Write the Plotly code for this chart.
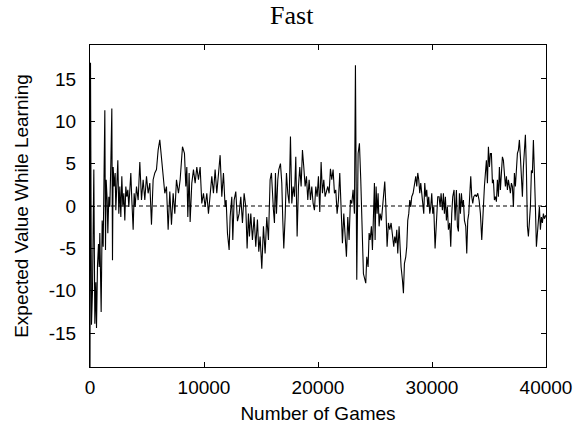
import plotly.graph_objects as go

games = [
    0, 44, 131, 219, 336, 424, 511, 570, 658, 745, 804, 862, 979, 1067, 1155, 1242, 1301, 1359, 1418,
    1505, 1564, 1652, 1739, 1827, 1915, 1973, 2031, 2119, 2207, 2265, 2353, 2441, 2528, 2616, 2704,
    2791, 2879, 2967, 3054, 3142, 3230, 3318, 3405, 3493, 3581, 3668, 3785, 3873, 3961,
    4078, 4224, 4370, 4516, 4662, 4808, 4955, 5100, 5247, 5393, 5539, 5685, 5831, 5977, 6123, 6270,
    6416, 6562, 6708, 6854, 7000, 7147, 7293, 7439, 7585,
    7761, 7907, 8112, 8287, 8404, 8492, 8580, 8696, 8784, 8930, 9076, 9223, 9369, 9515, 9661, 9807,
    9953, 10100, 10246, 10392, 10538, 10684, 10830, 10976, 11122, 11269, 11415, 11561, 11707, 11853,
    11941, 12058, 12204, 12292, 12438, 12526, 12643, 12789, 12935, 13081, 13227, 13373, 13519, 13665,
    13782, 13899, 13987, 14104, 14250, 14396, 14542, 14688, 14805, 14922, 15069, 15215, 15361, 15507,
    15653, 15799, 15916, 16092,
    16181, 16268, 16356, 16473, 16561, 16707, 16824, 16912, 16999, 17116, 17233, 17350, 17467, 17584,
    17701, 17818, 17935, 18052, 18168, 18285, 18402, 18519, 18636, 18753, 18870, 18987, 19104, 19221,
    19338, 19455, 19571, 19688, 19805, 19922, 20039, 20156, 20273, 20390, 20507, 20624, 20741, 20858,
    20974, 21091, 21208, 21325, 21442, 21559, 21676, 21793, 21910, 22027, 22144, 22261, 22378, 22494,
    22611, 22728, 22845, 22962, 23079, 23196, 23284, 23401, 23518, 23634, 23751, 23868, 23985,
    24190, 24278, 24395, 24483, 24570, 24687, 24775, 24863, 24950, 25009, 25097, 25184, 25272, 25360,
    25447, 25564, 25652, 25769, 25856, 25944, 26061, 26178, 26295, 26412, 26529, 26646, 26733, 26821,
    26909, 26997, 27113, 27201, 27289, 27406, 27494, 27581, 27698, 27786, 27873, 27961, 28049, 28136,
    28224, 28341, 28458, 28575, 28662, 28750, 28838, 28926, 29013, 29101, 29189, 29276, 29364, 29452,
    29539, 29627, 29715, 29803, 29890, 29978, 30066, 30153, 30270, 30387, 30504, 30621, 30709, 30796,
    30913, 31001, 31089, 31176, 31264, 31352, 31440, 31556, 31644, 31732, 31820, 31936, 32024, 32141,
    32230, 32318, 32405, 32493, 32581, 32669, 32756, 32844, 32961, 33049, 33136, 33224, 33312, 33399,
    33487, 33575, 33662, 33779, 33896, 34013, 34130, 34247, 34364, 34481, 34598, 34685, 34773, 34861,
    34949, 35036, 35124, 35212, 35299, 35387, 35475, 35562, 35650, 35738, 35826, 35913, 36001, 36089,
    36176, 36264, 36352, 36439, 36527, 36615, 36702, 36790, 36878, 36965, 37053, 37141, 37229, 37316,
    37404, 37492, 37579, 37667, 37755, 37842, 37930, 38018, 38105, 38193, 38281, 38368, 38456, 38544,
    38632, 38719, 38807, 38895, 38982, 39070, 39158, 39245, 39333, 39421, 39508, 39596, 39684, 39771,
    39859, 39976,
]

expected_value = [
    -20, 16.9, -14, -10, 4.3, -13.9, -9, -14.4, -7, -4.5, -7.2, -3.2, -12.5, -1.7, -4.8, 2.7, 11.3, -5.2, 3.1,
    0.7, -3.2, 1.1, -0.1, 5.0, 11.5, -6.4, 4.6, 2.3, 3.9, -0.5, 3.1, 5.4, -0.9, 2.3, -1.3,
    3.5, -0.1, 1.5, -1.7, 2.3, 1.1, 1.9, -0.1, 2.3, 3.9, 0.7, -2.8, 1.5, -0.1,
    2.3, 0.7, 5.2, 0.7, 3.1, 0.7, 3.5, 1.5, 2.7, -2.2, 3.1, 3.9, 4.3, 6.6, 7.8, 5.7,
    2.7, 1.5, 2.3, -2.8, 1.7, -2.2, 1.5, -0.9, 3.1,
    1.5, 3.1, 7.0, 6.2, 2.3, 4.6, -1.3, 3.9, -1.9, 2.7, 4.3, 2.7, 4.6, 3.1, 4.6, 0.3,
    1.5, -0.1, 1.5, -0.9, 1.1, 3.5, 1.5, 4.3, 1.5, 3.9, 6.0, 1.1, 3.9, -0.1,
    0.7, -3.2, -5.2, -1.3, 1.1, -4.0, 0.7, 1.7, -1.8, -0.9, 1.1, -2.0, 1.5, -0.1,
    -5.0, -0.9, -3.6, -0.9, -4.0, -1.3, -4.8, -1.6, -5.4, -3.6, -7.4, -2.4, -5.6, -1.3,
    -4.0, 3.1, 3.9, -0.5,
    -2.0, 3.9, -0.9, 3.1, 4.3, 5.0, 2.7, -1.7, -5.0, -1.3, 3.9, 1.5, 0.3, 8.2,
    0.3, 2.3, 1.1, 5.8, -3.6, 2.3, 4.6, 2.3, 6.6, 4.6, 2.3, 3.5, 0.7, 3.1,
    0.7, 2.3, 0.3, -0.5, 2.3, 1.1, 3.5, -0.7, 5.2, 1.5, 3.1, 1.1, 1.9, 2.3,
    1.5, 4.4, 3.1, 4.3, 1.5, 1.9, -0.9, 0.7, 3.9, -1.3, -4.4, -0.9, -3.0, -6.0,
    -1.3, -4.0, 0.7, 0.3, 1.9, -0.9, 16.6, -8.7, 6.2, 7.4, 3.1, -2.4, -8.0,
    -9.1, -6.0, -7.2, -3.2, -4.0, -2.4, -5.2, -1.7, 2.7, -4.0, 2.3, -0.9, 1.5, -2.4,
    -0.9, -1.7, -0.5, 1.1, 2.9, 0.3, -4.8, -2.0, -2.8, -2.0, -3.2, -4.8, -3.6, -4.4,
    -2.8, -5.6, -2.4, -5.6, -7.2, -8.7, -10.3, -6.8, -6.0, -4.8, -1.7, -0.9, 0.7, -0.1,
    1.1, 1.5, 2.7, 3.5, 2.3, 3.9, 3.1, 1.5, 2.7, 1.1, 0.3, -0.9, 2.7, 1.1,
    1.9, -0.1, 1.1, -0.9, -0.1, 1.5, -0.9, -0.1, -5.0, -0.9, 1.1, 1.1, -0.1, 1.5,
    -0.5, 1.5, -0.9, 1.1, -1.7, -0.1, -2.8, -2.0, -4.8, -0.9, 1.1, 1.9, -1.7, 1.9,
    -2.4, -3.0, 1.5, -0.9, 1.5, -0.1, 0.7, -1.7, -2.4, -5.6, -1.7, -0.9, 1.9, 3.5,
    1.1, 0.3, 1.1, 1.3, 1.1, 1.5, 0.7, -0.9, -4.0, 0.3, 2.3, 3.9, 5.4, 2.7,
    7.0, 4.6, 6.2, 6.2, 2.7, 3.1, 0.7, 1.1, 0.5, 3.1, 1.1, 4.6, 1.9, 3.9,
    5.8, 5.4, 3.5, 2.3, 3.5, 1.9, 3.1, 2.3, 1.5, 2.7, 2.3, -0.1, 3.9, 2.3,
    4.6, 6.2, 6.6, 7.8, 5.8, 3.1, 1.1, 4.6, 6.2, 8.4, 4.3, -2.4, -3.6, -1.3,
    -0.1, 4.2, 3.9, 7.8, 4.6, -0.1, -4.8, -2.4, -1.7, -0.1, -2.8, -1.3, -2.0, -0.9,
    -1.5, -1.1,
]

x_ticks = [0, 10000, 20000, 30000, 40000]
y_ticks = [-15, -10, -5, 0, 5, 10, 15]

SANS = "Liberation Sans, Arial, Helvetica, sans-serif"
SERIF = "Liberation Serif, Times New Roman, serif"

fig = go.Figure()
fig.add_trace(go.Scatter(
    x=games, y=expected_value, mode="lines",
    line=dict(color="black", width=1.1), showlegend=False, hoverinfo="skip",
))

fig.add_shape(type="line", xref="paper", yref="y", x0=0, x1=1, y0=0, y1=0,
              line=dict(color="black", width=1, dash="4px,3px"), layer="below")

axis_common = dict(
    showline=True, linecolor="black", linewidth=1.2, mirror="ticks",
    ticks="inside", ticklen=5, tickcolor="black", tickwidth=1,
    showgrid=False, zeroline=False,
    tickfont=dict(family=SANS, size=19, color="black"),
)

fig.update_layout(
    width=587, height=433,
    margin=dict(l=89.5, r=41, t=45, b=66, autoexpand=False),
    paper_bgcolor="white", plot_bgcolor="white",
    title=dict(text="Fast", x=0.497, xref="container", xanchor="center",
               y=0.965, yref="container", yanchor="middle",
               font=dict(family=SERIF, size=26, color="black")),
    xaxis=dict(range=[0, 40000], tickvals=x_ticks, ticktext=[str(v) for v in x_ticks],
               ticklabelstandoff=3, automargin=False,
               title=dict(text="Number of Games", standoff=9,
                          font=dict(family=SANS, size=19, color="black")),
               **axis_common),
    yaxis=dict(range=[-19, 19], tickvals=y_ticks, ticktext=[str(v) for v in y_ticks],
               ticklabelstandoff=9, automargin=False,
               title=dict(text="Expected Value While Learning", standoff=14,
                          font=dict(family=SANS, size=19, color="black")),
               **axis_common),
)

fig.write_html(
    "out.html",
    config={"displayModeBar": False},
    post_script="document.body.style.margin='0';document.body.style.overflow='hidden';",
)
